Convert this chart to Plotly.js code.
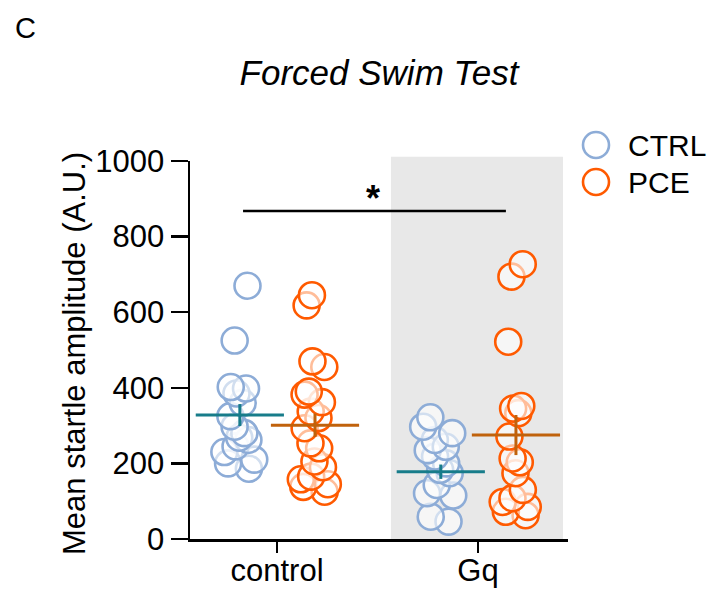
<!DOCTYPE html>
<html>
<head>
<meta charset="utf-8">
<script src="https://cdn.plot.ly/plotly-3.0.1.min.js"></script>
<style>html,body{margin:0;padding:0;background:#fff;}</style>
</head>
<body>
<div id="chart" style="width:713px;height:592px;"></div>
<script>
// ---- data ----
const categories = ['control', 'Gq'];
const groups = ['CTRL', 'PCE'];

const ctrlControl = [670, 525, 402, 398, 385, 360, 325, 297, 280, 268, 262, 245, 230, 210, 200, 186];
const pceControl  = [645, 618, 470, 455, 390, 382, 362, 337, 320, 293, 253, 240, 205, 190, 165, 158, 145, 138, 125];
const ctrlGq      = [322, 297, 280, 262, 244, 235, 218, 200, 183, 174, 143, 121, 115, 59, 46];
const pceGq       = [727, 694, 522, 352, 345, 333, 271, 213, 203, 174, 130, 108, 98, 85, 72, 63];

const ctrlMean = [328, 178];
const ctrlSem  = [29, 19];
const pceMean  = [301, 275];
const pceSem   = [31, 53];

// ---- styles ----
const FONT = 'Liberation Sans, Arial, Helvetica, sans-serif';
const colors = {
  CTRL: {pt: '#8DACD7', mean: '#177C8A'},
  PCE:  {pt: '#FF5A00', mean: '#C0620C'}
};
const groupOffset = {CTRL: -0.185, PCE: 0.189};

const series = [
  {g: 'CTRL', c: 0, v: ctrlControl},
  {g: 'PCE',  c: 0, v: pceControl},
  {g: 'CTRL', c: 1, v: ctrlGq},
  {g: 'PCE',  c: 1, v: pceGq}
];

const traces = series.map(s => ({
  type: 'box',
  name: s.g + ' ' + categories[s.c],
  y: s.v,
  x0: s.c + groupOffset[s.g],
  width: 0.37,
  boxpoints: 'all',
  pointpos: 0,
  jitter: 0.5,
  fillcolor: 'rgba(0,0,0,0)',
  line: {width: 0, color: 'rgba(0,0,0,0)'},
  whiskerwidth: 0,
  marker: {
    symbol: 'circle',
    size: 26,
    color: 'rgba(255,255,255,0.6)',
    line: {color: colors[s.g].pt, width: 2.6}
  },
  showlegend: false,
  hoverinfo: 'y'
}));

function meanTrace(g, means, sems) {
  return {
    type: 'scatter',
    mode: 'markers',
    name: g + ' mean',
    x: categories.map((_, i) => i + groupOffset[g]),
    y: means,
    marker: {symbol: 'line-ew', size: 63, line: {color: colors[g].mean, width: 3}},
    error_y: {type: 'data', array: sems, visible: true, width: 0, thickness: 3, color: colors[g].mean},
    showlegend: false,
    hoverinfo: 'y'
  };
}
traces.push(meanTrace('CTRL', ctrlMean, ctrlSem));
traces.push(meanTrace('PCE', pceMean, pceSem));

// legend (drawn manually to match large circle markers)
const plotL = 190, plotR = 568, plotT = 161, plotB = 539;
const pw = plotR - plotL, ph = plotB - plotT;
const px2paperX = px => (px - plotL) / pw;
const px2paperY = py => (plotB - py) / ph;

const legendRows = [
  {g: 'CTRL', y: 145},
  {g: 'PCE', y: 182}
];

const shapes = [
  {type: 'rect', xref: 'x', yref: 'paper', x0: 0.567, x1: 1.423, y0: 0, y1: 1.011,
   fillcolor: '#E8E8E8', line: {width: 0}, layer: 'below'},
  {type: 'line', xref: 'x', yref: 'y', x0: -0.169, x1: 1.139, y0: 868, y1: 868,
   line: {color: '#000', width: 2.5}}
];
legendRows.forEach(r => {
  shapes.push({type: 'circle', xref: 'paper', yref: 'paper',
    xsizemode: 'pixel', ysizemode: 'pixel',
    xanchor: px2paperX(596), yanchor: px2paperY(r.y),
    x0: -13, x1: 13, y0: -13, y1: 13,
    line: {color: colors[r.g].pt, width: 2.6}, fillcolor: 'rgba(255,255,255,0)'});
});

const annotations = [
  {text: '*', xref: 'x', yref: 'y', x: 0.48, y: 902, showarrow: false,
   font: {family: FONT, size: 36, color: '#000', weight: 'bold'}, xanchor: 'center', yanchor: 'middle'},
  {text: 'C', xref: 'paper', yref: 'paper', x: px2paperX(13), y: px2paperY(28), showarrow: false,
   xanchor: 'left', yanchor: 'middle', font: {family: FONT, size: 29, color: '#000'}},
  {text: 'Mean startle amplitude (A.U.)', xref: 'paper', yref: 'paper', textangle: -90,
   x: px2paperX(74), y: px2paperY(354), showarrow: false, xanchor: 'center', yanchor: 'middle',
   font: {family: FONT, size: 31, color: '#000'}}
];
legendRows.forEach(r => {
  annotations.push({text: r.g, xref: 'paper', yref: 'paper', x: px2paperX(626), y: px2paperY(r.y),
    xanchor: 'left', yanchor: 'middle', showarrow: false,
    font: {family: FONT, size: 30, color: '#000'}});
});

const layout = {
  width: 713, height: 592,
  margin: {l: plotL, r: 713 - plotR, t: plotT, b: 592 - plotB, pad: 0},
  paper_bgcolor: '#fff', plot_bgcolor: 'rgba(0,0,0,0)',
  font: {family: FONT, color: '#000'},
  showlegend: false,
  title: {text: 'Forced Swim Test', xref: 'container', yref: 'container',
    x: 379 / 713, xanchor: 'center', y: 1 - 73 / 592, yanchor: 'middle',
    font: {family: FONT, size: 35, style: 'italic', color: '#000'}},
  xaxis: {
    range: [-0.433, 1.448], tickvals: [0, 1], ticktext: categories,
    showline: true, linecolor: '#000', linewidth: 2.5,
    ticks: 'outside', ticklen: 11, tickwidth: 2.5, tickcolor: '#000',
    ticklabelstandoff: -9,
    showgrid: false, zeroline: false, fixedrange: true,
    tickfont: {family: FONT, size: 31, color: '#000'}
  },
  yaxis: {
    range: [0, 1000], tickvals: [0, 200, 400, 600, 800, 1000],
    showline: true, linecolor: '#000', linewidth: 2.5,
    ticks: 'outside', ticklen: 17, tickwidth: 2.5, tickcolor: '#000',
    showgrid: false, zeroline: false, fixedrange: true,
    tickfont: {family: FONT, size: 31, color: '#000'}
  },
  shapes: shapes,
  annotations: annotations
};

Plotly.newPlot('chart', traces, layout, {displayModeBar: false, staticPlot: true});
</script>
</body>
</html>
